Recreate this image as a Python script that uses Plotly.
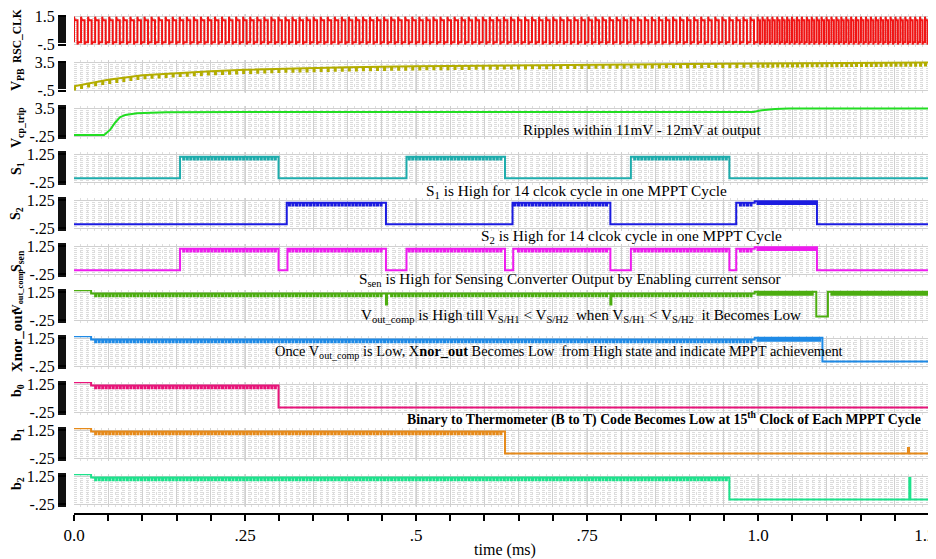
import numpy as np
import plotly.graph_objects as go

# ---------------- data ----------------
T_MAX = 1.26
time_tick_vals = [0.0, 0.25, 0.5, 0.75, 1.0, 1.25]
time_tick_text = ["0.0", ".25", ".5", ".75", "1.0", "1.25"]

# RSC_CLK
clk_period_ms = [0.0103, 0.0072]      # period before / after speed-up
clk_speedup_ms = 0.995
clk_low, clk_high, clk_peak, clk_dip = -0.35, 1.2, 1.45, -0.5

# V_PB (upper envelope) and its ripple depth
vpb_t = [0.0, 0.02, 0.05, 0.1, 0.15, 0.2, 0.25, 0.3, 0.35, 0.4, 0.5, 0.6, 0.75, 0.9, 1.0, 1.1, 1.26]
vpb_v = [0.1, 0.5, 1.0, 1.65, 1.95, 2.2, 2.4, 2.55, 2.65, 2.75, 2.9, 3.0, 3.12, 3.22, 3.28, 3.36, 3.45]
vpb_ripple = 0.45

# V_cp_trip
vcp_t = [0.0, 0.044, 0.053, 0.060, 0.067, 0.075, 0.092, 0.135, 0.25, 0.993, 1.003, 1.013, 1.025, 1.045, 1.26]
vcp_v = [-0.08, -0.08, 0.63, 1.56, 2.27, 2.61, 2.83, 2.97, 3.0, 3.0, 3.2, 3.33, 3.41, 3.45, 3.46]

# S1 / S2 / Ssen high intervals (ms)
s1_high_ms = [[0.155, 0.299], [0.486, 0.630], [0.814, 0.958]]
s2_high_ms = [[0.311, 0.456], [0.641, 0.784], [0.968, 1.086]]
ssen_high_ms = [[0.155, 0.299], [0.312, 0.456], [0.486, 0.630],
                [0.642, 0.784], [0.814, 0.958], [0.968, 1.086]]
pulse_low, pulse_high, pulse_high_late, pulse_ripple = -0.03, 1.12, 1.2, 0.15

# signals that start high
start_high, settled_high, settled_high_late, settle_ms = 1.35, 1.18, 1.27, 0.025
digital_low = 0.0
vout_dips_ms = [0.456, 0.784]
vout_dip_level = 0.6
vout_low_ms = [1.085, 1.102]
xnor_fall_ms = 1.094
b0_fall_ms, b1_fall_ms, b2_fall_ms = 0.299, 0.630, 0.958
b1_glitch = [1.219, 0.3]
b2_glitch = [1.221, 1.15]

# ---------------- waveform construction ----------------
FONT = "Liberation Serif, Times New Roman, serif"
TW = 0.0015


def period_at(t):
    return clk_period_ms[0] if t < clk_speedup_ms else clk_period_ms[1]


RISES = []
_t = 0.0
while _t < T_MAX:
    RISES.append(_t)
    _t += period_at(_t)
HALF = sorted(RISES + [r + period_at(r) / 2 for r in RISES])


def flat(t0, t1, level, depth):
    xs, ys = [t0], [level]
    if depth:
        for tt in HALF:
            if t0 + 0.002 < tt < t1 - 0.004:
                xs += [tt, tt, tt + TW, tt + TW]
                ys += [level, level - depth, level - depth, level]
    xs.append(t1)
    ys.append(level)
    return xs, ys


def wave(pieces):
    X, Y = [], []
    for (t0, t1, lvl, d) in pieces:
        x, y = flat(t0, t1, lvl, d)
        X += x
        Y += y
    return X, Y


def pulse_pieces(highs):
    pieces, t = [], 0.0
    for a, b in highs:
        pieces.append((t, a, pulse_low, 0))
        if a < clk_speedup_ms < b:
            pieces += [(a, clk_speedup_ms, pulse_high, pulse_ripple),
                       (clk_speedup_ms, b, pulse_high_late, pulse_ripple)]
        else:
            pieces.append((a, b, pulse_high if a < clk_speedup_ms else pulse_high_late, pulse_ripple))
        t = b
    pieces.append((t, T_MAX, pulse_low, 0))
    return pieces


R = pulse_ripple
# clock
clk_x, clk_y = [], []
for r in RISES:
    p = period_at(r)
    clk_x += [r, r, r + 0.1 * p, r + 0.5 * p, r + 0.5 * p, r + 0.6 * p, r + p]
    clk_y += [clk_low, clk_peak, clk_high, clk_high, clk_dip, clk_low, clk_low]

# V_PB ripple teeth
vpb_tx, vpb_ty = [], []
for r in RISES:
    lvl = float(np.interp(r, vpb_t, vpb_v))
    vpb_tx += [r, r, r + TW, r + TW, None]
    vpb_ty += [lvl, lvl - vpb_ripple, lvl - vpb_ripple, lvl, None]

s1 = wave(pulse_pieces(s1_high_ms))
s2 = wave(pulse_pieces(s2_high_ms))
ssen = wave(pulse_pieces(ssen_high_ms))

vout_pieces = [(0, settle_ms, start_high, 0)]
t = settle_ms
for d in vout_dips_ms:
    vout_pieces += [(t, d, settled_high, R), (d, d + TW, vout_dip_level, 0)]
    t = d + TW
vout_pieces += [(t, clk_speedup_ms, settled_high, R),
                (clk_speedup_ms, vout_low_ms[0], settled_high_late, R),
                (vout_low_ms[0], vout_low_ms[1], digital_low - 0.05, 0),
                (vout_low_ms[1], T_MAX, settled_high_late, R)]
vout = wave(vout_pieces)

xnor = wave([(0, settle_ms, start_high, 0), (settle_ms, clk_speedup_ms, settled_high, R),
             (clk_speedup_ms, xnor_fall_ms, settled_high_late, R), (xnor_fall_ms, T_MAX, digital_low, 0)])
b0 = wave([(0, settle_ms, start_high, 0), (settle_ms, b0_fall_ms, settled_high, R),
           (b0_fall_ms, T_MAX, digital_low, 0)])
b1 = wave([(0, settle_ms, start_high, 0), (settle_ms, b1_fall_ms, settled_high, R),
           (b1_fall_ms, b1_glitch[0], digital_low, 0), (b1_glitch[0], b1_glitch[0] + TW, b1_glitch[1], 0),
           (b1_glitch[0] + TW, T_MAX, digital_low, 0)])
b2 = wave([(0, settle_ms, start_high, 0), (settle_ms, b2_fall_ms, settled_high, R),
           (b2_fall_ms, b2_glitch[0], digital_low, 0), (b2_glitch[0], b2_glitch[0] + TW, b2_glitch[1], 0),
           (b2_glitch[0] + TW, T_MAX, digital_low, 0)])

# (label, data, colour, tick values, tick text, y range, label centre y px, label font size)
rows = [
    ("<b>RSC_CLK</b>", (clk_x, clk_y), "#f01414", [-0.5, 1.5], ["-.5", "1.5"], [-0.64, 1.64], 36, 11.5),
    ("<b>V<sub>PB</sub></b>", (vpb_t, vpb_v), "#b3ad00", [-0.5, 3.5], ["-.5", "3.5"], [-0.78, 3.78], 80, 14),
    ("<b>V<sub>cp_trip</sub></b>", (vcp_t, vcp_v), "#22dd22", [-0.25, 3.5], ["-.25", "3.5"], [-0.55, 3.8], 128, 14),
    ("<b>S<sub>1</sub></b>", s1, "#1eacac", [-0.25, 1.25], ["-.25", "1.25"], [-0.37, 1.37], 169, 14),
    ("<b>S<sub>2</sub></b>", s2, "#1c1ce0", [-0.25, 1.25], ["-.25", "1.25"], [-0.37, 1.37], 214, 14),
    ("<b>S<sub>sen</sub></b>", ssen, "#ee1cee", [-0.25, 1.25], ["-.25", "1.25"], [-0.37, 1.37], 261, 14),
    ("<b>V<sub>out_comp</sub></b>", vout, "#4cad10", [-0.25, 1.25], ["-.25", "1.25"], [-0.37, 1.37], 291, 12),
    ("<b>Xnor_out</b>", xnor, "#1e8ae6", [-0.25, 1.25], ["-.25", "1.25"], [-0.37, 1.37], 341, 15),
    ("<b>b<sub>0</sub></b>", b0, "#e8157a", [-0.25, 1.25], ["-.25", "1.25"], [-0.37, 1.37], 391, 14),
    ("<b>b<sub>1</sub></b>", b1, "#e68a1a", [-0.25, 1.25], ["-.25", "1.25"], [-0.37, 1.37], 435, 14),
    ("<b>b<sub>2</sub></b>", b2, "#1de28c", [-0.25, 1.25], ["-.25", "1.25"], [-0.37, 1.37], 484, 14),
]

# ---------------- layout geometry ----------------
# The page body adds an 8 px margin, so the figure is 8 px smaller and all
# positions below are expressed in window pixels.
BODY = 8
W, H = 936 - BODY, 559 - BODY
SCR_L, SCR_R, SCR_T, SCR_B = 56, 936, 14, 513        # plot area in window pixels
ML, MR, MT, MB = SCR_L - BODY, 936 - SCR_R, SCR_T - BODY, 559 - SCR_B
PW, PH = SCR_R - SCR_L, SCR_B - SCR_T


def px(xp):
    return (xp - SCR_L) / PW


def py(yp):
    return (SCR_B - yp) / PH


XD = [px(74), 1.0]
fig = go.Figure()
layout = dict(width=W, height=H, margin=dict(l=ML, r=MR, t=MT, b=MB, autoexpand=False),
              plot_bgcolor="white", paper_bgcolor="white", showlegend=False,
              font=dict(family=FONT, size=16, color="black"))
shapes, annotations = [], []

for k, (label, (xs, ys), color, tv, tt, rng, lab_y, lab_size) in enumerate(rows, start=1):
    top = 14 + 46 * (k - 1)
    bot = top + 32.5
    sfx = "" if k == 1 else str(k)
    span = tv[1] - tv[0]
    layout["xaxis" + sfx] = dict(domain=XD, range=[0, T_MAX], anchor="y" + sfx, showticklabels=False,
                                 ticks="", showline=False, zeroline=False, automargin=False,
                                 tickmode="linear", tick0=0, dtick=0.05,
                                 showgrid=True, gridcolor="#d0d0d0", gridwidth=1,
                                 minor=dict(tickmode="linear", tick0=0, dtick=0.01, showgrid=True,
                                            gridcolor="#dedede", griddash="dot", gridwidth=1))
    layout["yaxis" + sfx] = dict(domain=[py(bot), py(top)], range=rng, anchor="free", position=px(66),
                                 tickmode="array", tickvals=tv, ticktext=tt, automargin=False,
                                 ticklabeloverflow="allow",
                                 ticks="outside", ticklen=8, tickwidth=2, tickcolor="black",
                                 showline=False, zeroline=False, showgrid=True, gridcolor="#d0d0d0",
                                 tickfont=dict(family=FONT, size=16, color="black"),
                                 minor=dict(tickmode="linear", tick0=tv[0], dtick=span / 14,
                                            ticks="outside", ticklen=8, tickwidth=2, tickcolor="#111111",
                                            showgrid=True, gridcolor="#dcdcdc", griddash="dot", gridwidth=1))
    for tvx in time_tick_vals[1:]:
        shapes.append(dict(type="line", xref="x" + sfx, yref="y" + sfx + " domain", x0=tvx, x1=tvx,
                           y0=0, y1=1, line=dict(color="#b4b4b4", width=1), layer="below"))
    fig.add_trace(go.Scatter(x=xs, y=ys, mode="lines", line=dict(color=color, width=2),
                             xaxis="x" + sfx, yaxis="y" + sfx, hoverinfo="skip"))
    if k == 2:
        fig.add_trace(go.Scatter(x=vpb_tx, y=vpb_ty, mode="lines", line=dict(color=color, width=2),
                                 xaxis="x2", yaxis="y2", hoverinfo="skip"))
    annotations.append(dict(text=label, xref="paper", yref="paper", x=px(17), y=py(lab_y),
                            xanchor="center", yanchor="middle", textangle=-90, showarrow=False,
                            font=dict(family=FONT, size=lab_size, color="black")))

# bottom time axis
time_ticks = [round(0.05 * i, 2) for i in range(26)]
layout["xaxis12"] = dict(domain=XD, range=[0, T_MAX], anchor="y12", showline=True, automargin=False,
                         linecolor="black", linewidth=1.5, ticks="outside", ticklen=6,
                         tickwidth=1.5, tickcolor="black", tickmode="array",
                         tickvals=time_ticks, ticklabeloverflow="allow",
                         ticktext=[time_tick_text[time_tick_vals.index(v)] if v in time_tick_vals else ""
                                   for v in time_ticks],
                         showgrid=False, zeroline=False,
                         tickfont=dict(family=FONT, size=17, color="black"),
                         title=dict(text="time (ms)", font=dict(family=FONT, size=16, color="black"),
                                    standoff=0))
layout["yaxis12"] = dict(domain=[0, 0.001], visible=False, anchor="x12", range=[0, 1])
fig.add_trace(go.Scatter(x=[0], y=[0], mode="markers", marker=dict(size=1, opacity=0),
                         xaxis="x12", yaxis="y12", hoverinfo="skip"))

notes = [
    ("Ripples within 11mV - 12mV at output", 642, 129, 15.2),
    ("S<sub>1</sub> is High for 14 clcok cycle in one MPPT Cycle", 576, 191, 15.3),
    ("S<sub>2</sub> is High for 14 clcok cycle in one MPPT Cycle", 631, 236, 15.3),
    ("S<sub>sen</sub> is High for Sensing Converter Output by Enabling current sensor", 570, 279, 15.2),
    ("V<sub>out_comp</sub> is High till V<sub>S/H1</sub> &lt; V<sub>S/H2</sub>  when "
     "V<sub>S/H1</sub> &lt; V<sub>S/H2</sub>  it Becomes Low", 581, 316, 15.2),
    ("Once V<sub>out_comp</sub> is Low, X<b>nor_out</b> Becomes Low  from High state and "
     "indicate MPPT achievement", 559, 352, 14.4),
    ("<b>Binary to Thermometer (B to T) Code Becomes Low at 15<sup>th</sup> Clock of Each MPPT Cycle</b>",
     664, 418, 13.8),
]
for text, xp, yp, size in notes:
    annotations.append(dict(text=text, xref="paper", yref="paper", x=px(xp), y=py(yp),
                            xanchor="center", yanchor="middle", showarrow=False,
                            font=dict(family=FONT, size=size, color="black")))

layout["shapes"] = shapes
layout["annotations"] = annotations
fig.update_layout(**layout)
fig.write_html("out.html")
